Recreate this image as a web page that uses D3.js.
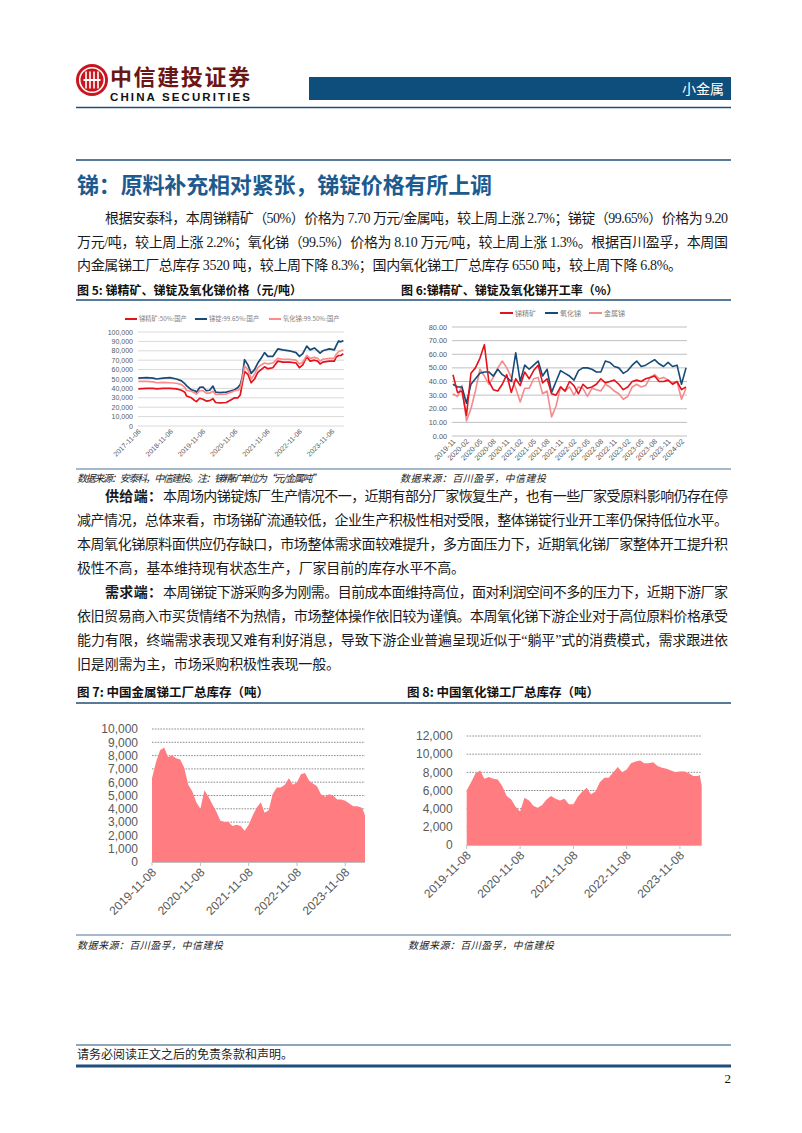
<!DOCTYPE html>
<html><head><meta charset="utf-8">
<script src="https://cdn.jsdelivr.net/npm/d3@7"></script>
<style>html,body{margin:0;padding:0;background:#fff}svg{display:block}</style>
</head><body>
<svg id="page" width="802" height="1133"></svg>
<script>
// ---------------- DATA ----------------
const priceDates = ["2017-11-06","2018-02-08","2018-04-24","2018-06-01","2018-08-15","2018-10-30","2019-01-13","2019-03-10","2019-04-17","2019-05-06","2019-07-01","2019-08-08","2019-08-27","2019-10-03","2019-11-09","2019-12-17","2020-01-24","2020-03-01","2020-03-31","2020-05-16","2020-07-30","2020-09-24","2020-11-01","2020-12-09","2021-01-04","2021-01-27","2021-02-22","2021-04-01","2021-05-08","2021-06-15","2021-07-22","2021-08-29","2021-10-06","2021-11-13","2022-01-08","2022-03-06","2022-05-01","2022-07-15","2022-09-29","2022-11-06","2022-12-14","2023-01-28","2023-03-07","2023-04-25","2023-06-01","2023-06-28","2023-07-28","2023-10-11","2023-12-06","2023-12-25","2024-01-24","2024-02-20","2024-03-17"];
const priceOre   = [39500,40000,40000,39500,40000,40000,39500,38000,36000,32000,30000,27000,26000,29500,28500,26500,27000,29000,25000,24500,25000,28000,30000,30000,33000,45000,58000,55000,46000,50000,57000,60000,63000,61000,62000,69000,68000,68000,67000,62000,65000,74000,69000,70000,69000,66000,68000,69000,69000,73000,75000,75000,77000];
const priceIngot = [51000,51500,51000,50000,51000,51500,50000,48000,45000,43000,38500,37500,36000,41000,41500,37500,38000,42500,36000,35500,36000,37500,38500,41000,44000,52000,70500,65000,56000,60000,67000,72000,78000,74000,74000,82000,81000,80000,78000,74000,77000,85000,81000,83000,80000,77500,80000,82000,81000,85000,90500,89500,91000];
const priceOxide = [47500,47500,47000,46000,46500,46000,45500,44000,41000,38000,37000,35000,34000,37500,37500,35000,35000,37000,33500,33500,34000,36000,37500,38000,40000,50000,64000,60000,50000,55000,62000,65000,67000,66000,67000,72000,71000,71000,70000,66000,68000,75000,72000,73000,72000,69000,71000,72000,72000,76000,79000,80000,81000];
const priceTicks = ["2017-11-06","2018-11-06","2019-11-06","2020-11-06","2021-11-06","2022-11-06","2023-11-06"];
const priceYTicks = [0,10000,20000,30000,40000,50000,60000,70000,80000,90000,100000];
const priceNames = ["锑精矿:50%:国产","锑锭:99.65%:国产","氧化锑:99.50%:国产"];

const months = ["2019-11","2019-12","2020-01","2020-02","2020-03","2020-04","2020-05","2020-06","2020-07","2020-08","2020-09","2020-10","2020-11","2020-12","2021-01","2021-02","2021-03","2021-04","2021-05","2021-06","2021-07","2021-08","2021-09","2021-10","2021-11","2021-12","2022-01","2022-02","2022-03","2022-04","2022-05","2022-06","2022-07","2022-08","2022-09","2022-10","2022-11","2022-12","2023-01","2023-02","2023-03","2023-04","2023-05","2023-06","2023-07","2023-08","2023-09","2023-10","2023-11","2023-12","2024-01","2024-02","2024-03"];
const rateOre   = [45,32,33,15,46,50,57,67,40,34,33,38,45,32,42,37,47,42,48,52,39,42,31,30,36,33,40,37,31,38,35,36,38,42,39,40,41,38,34,36,40,41,40,42,43,44,40,40,41,38,40,34,36];
const rateOxide = [38,36,36,24,38,42,46,47,47,44,49,45,43,40,61,40,52,49,52,55,44,49,32,40,48,46,44,41,48,50,50,49,47,47,55,54,51,50,46,48,52,55,51,52,54,56,53,51,54,51,52,38,50];
const rateMetal = [31,29,37,11,20,33,49,44,38,43,50,55,50,43,35,25,35,35,42,43,31,33,14,22,36,33,36,30,36,35,29,35,34,33,38,36,33,31,27,29,36,38,36,37,43,45,42,43,41,39,40,27,35];
const rateTicks = ["2019-11","2020-02","2020-05","2020-08","2020-11","2021-02","2021-05","2021-08","2021-11","2022-02","2022-05","2022-08","2022-11","2023-02","2023-05","2023-08","2023-11","2024-02"];
const rateYTicks = [0,10,20,30,40,50,60,70,80];
const rateNames = ["锑精矿","氧化锑","金属锑"];

const invExtraDates = ["2024-03-22","2024-04-05"];
const invMetal = [6300,7500,8400,8600,7900,8000,7800,7700,7100,5800,5300,4500,4000,5400,4900,4300,3800,3100,3000,3000,2700,2800,2700,2350,2800,3500,4100,4500,3700,3900,5100,5600,5600,5800,6300,5800,6000,6600,6700,6100,5900,5700,5100,4900,5100,5000,4700,4700,4600,4400,4200,4200,4100,3900,3520];
const invOxide = [6000,6900,7900,8200,7300,7500,7300,7200,6500,5400,5000,4200,3700,5200,4900,4300,4100,4400,5000,5400,5100,4900,5100,4500,4500,5300,5900,6300,5600,5900,6900,7400,7400,8000,8600,8000,8300,9000,9200,9300,9000,9000,9100,8700,8500,8400,8200,8000,8100,8100,7900,7600,7600,7700,6550];
const invTicks = ["2019-11-08","2020-11-08","2021-11-08","2022-11-08","2023-11-08"];
const invMetalYTicks = [0,1000,2000,3000,4000,5000,6000,7000,8000,9000,10000];
const invOxideYTicks = [0,2000,4000,6000,8000,10000,12000];

// ---------------- SETUP ----------------
const svg = d3.select("#page");
const CJK = '"Noto Sans CJK SC", sans-serif';
const SERIF = '"Liberation Serif", "Noto Sans CJK SC", serif';
const SANS = '"Liberation Sans", Arial, sans-serif';
const NAVY = "#1f4e79";
const parse = d3.timeParse("%Y-%m-%d");

function hline(x0, x1, y, w, c) {
  svg.append("line").attr("x1", x0).attr("x2", x1).attr("y1", y).attr("y2", y)
    .attr("stroke", c).attr("stroke-width", w);
}
function text(x, y, s, o) {
  o = o || {};
  const t = svg.append("text").attr("x", x).attr("y", y).text(s)
    .attr("font-family", o.family || SERIF).attr("font-size", o.size || 14)
    .attr("fill", o.fill || "#111");
  if (o.weight) t.attr("font-weight", o.weight);
  if (o.anchor) t.attr("text-anchor", o.anchor);
  if (o.style) t.attr("font-style", o.style);
  if (o.len) t.attr("textLength", o.len).attr("lengthAdjust", "spacing");
  return t;
}

// ---------------- HEADER ----------------
const logo = svg.append("g").attr("transform", "translate(92,80)");
logo.append("circle").attr("r", 16).attr("fill", "#c8161e");
logo.append("circle").attr("r", 12.3).attr("fill", "none").attr("stroke", "#fff").attr("stroke-width", 1.6);
[-6, -2, 2, 6].forEach(dx => logo.append("rect").attr("x", dx - 0.8).attr("y", -8.5).attr("width", 1.6).attr("height", 17).attr("fill", "#fff"));
logo.append("rect").attr("x", -8.5).attr("y", -1).attr("width", 17).attr("height", 2).attr("fill", "#fff");
text(110, 85, "中信建投证券", {family: CJK, size: 22, weight: 700, fill: "#6b1515", len: 140});
text(110, 101, "CHINA SECURITIES", {family: SANS, size: 11.5, weight: 700, fill: "#111", len: 140});
svg.append("rect").attr("x", 309).attr("y", 77).attr("width", 422).attr("height", 23).attr("fill", "#0e4e7c");
text(724, 94, "小金属", {family: CJK, size: 14, fill: "#fff", anchor: "end"});
hline(76, 731, 107.5, 1.5, NAVY);

// ---------------- TITLE & PARAGRAPH ----------------
hline(76, 731, 160, 1.5, NAVY);
text(77, 193, "锑：原料补充相对紧张，锑锭价格有所上调", {family: CJK, size: 22, weight: 700, fill: "#1d5b8e", len: 415});

const P = {family: SERIF, size: 14, fill: "#1a1a1a"};
function pline(x0, x1, y, s, bold) {
  if (bold) {
    text(x0, y, bold, Object.assign({}, P, {weight: 700, family: CJK, len: 57}));
    text(x0 + 58, y, s, Object.assign({}, P, {len: x1 - x0 - 58}));
  } else {
    text(x0, y, s, Object.assign({}, P, {len: x1 - x0}));
  }
}
pline(105, 728, 223, "根据安泰科，本周锑精矿（50%）价格为 7.70 万元/金属吨，较上周上涨 2.7%；锑锭（99.65%）价格为 9.20");
pline(77, 728, 247, "万元/吨，较上周上涨 2.2%；氧化锑（99.5%）价格为 8.10 万元/吨，较上周上涨 1.3%。根据百川盈孚，本周国");
pline(77, 682, 270, "内金属锑工厂总库存 3520 吨，较上周下降 8.3%；国内氧化锑工厂总库存 6550 吨，较上周下降 6.8%。");

// captions row 1
text(77, 295, "图 5: 锑精矿、锑锭及氧化锑价格（元/吨）", {family: CJK, size: 12, weight: 700, fill: "#111"});
text(401, 295, "图 6:锑精矿、锑锭及氧化锑开工率（%）", {family: CJK, size: 12, weight: 700, fill: "#111"});
hline(76, 731, 300, 1.5, NAVY);
hline(76, 731, 469, 1.2, "#4f7397");
text(77, 482, "数据来源：安泰科，中信建投。注：锑精矿单位为“元/金属吨”", {family: CJK, size: 10, style: "italic", fill: "#222", len: 244});
text(400, 482, "数据来源：百川盈孚，中信建投", {family: CJK, size: 10, style: "italic", fill: "#222", len: 146});

// supply / demand paragraphs
pline(105, 728, 501, "本周场内锑锭炼厂生产情况不一，近期有部分厂家恢复生产，也有一些厂家受原料影响仍存在停", "供给端：");
pline(77, 728, 525, "减产情况，总体来看，市场锑矿流通较低，企业生产积极性相对受限，整体锑锭行业开工率仍保持低位水平。");
pline(77, 728, 549, "本周氧化锑原料面供应仍存缺口，市场整体需求面较难提升，多方面压力下，近期氧化锑厂家整体开工提升积");
pline(77, 465, 573, "极性不高，基本维持现有状态生产，厂家目前的库存水平不高。");
pline(105, 728, 597, "本周锑锭下游采购多为刚需。目前成本面维持高位，面对利润空间不多的压力下，近期下游厂家", "需求端：");
pline(77, 728, 621, "依旧贸易商入市买货情绪不为热情，市场整体操作依旧较为谨慎。本周氧化锑下游企业对于高位原料价格承受");
pline(77, 728, 645, "能力有限，终端需求表现又难有利好消息，导致下游企业普遍呈现近似于“躺平”式的消费模式，需求跟进依");
pline(77, 340, 669, "旧是刚需为主，市场采购积极性表现一般。");

// captions row 2
text(77, 697, "图 7: 中国金属锑工厂总库存（吨）", {family: CJK, size: 12.5, weight: 700, fill: "#111"});
text(407, 697, "图 8: 中国氧化锑工厂总库存（吨）", {family: CJK, size: 12.5, weight: 700, fill: "#111"});
hline(76, 731, 703, 1.5, NAVY);
hline(76, 731, 935, 1.2, "#4f7397");
text(77, 949, "数据来源：百川盈孚，中信建投", {family: CJK, size: 10, style: "italic", fill: "#222", len: 146});
text(408, 949, "数据来源：百川盈孚，中信建投", {family: CJK, size: 10, style: "italic", fill: "#222", len: 146});

// footer
hline(76, 731, 1045, 1, NAVY);
text(77, 1059, "请务必阅读正文之后的免责条款和声明。", {family: CJK, size: 12, fill: "#222"});
hline(76, 731, 1066, 3, NAVY);
text(731, 1083, "2", {family: SERIF, size: 13, fill: "#111", anchor: "end"});

// ---------------- CHART 5: prices ----------------
(function () {
  const g = svg.append("g");
  const dates = priceDates.map(parse);
  const x = d3.scaleTime().domain(d3.extent(dates)).range([138.3, 343.3]);
  const y = d3.scaleLinear().domain([0, 100000]).range([426, 332]);
  priceYTicks.forEach(v => {
    g.append("line").attr("x1", 138).attr("x2", 344).attr("y1", y(v)).attr("y2", y(v))
      .attr("stroke", "#d9d9d9").attr("stroke-width", 1);
    g.append("text").attr("x", 133).attr("y", y(v) + 2.5).attr("text-anchor", "end")
      .attr("font-family", SANS).attr("font-size", 7).attr("fill", "#595959").text(d3.format(",")(v));
  });
  priceTicks.forEach(t => {
    const tx = x(parse(t));
    g.append("text").attr("transform", `translate(${tx + 3},${432}) rotate(-45)`)
      .attr("text-anchor", "end").attr("font-family", SANS).attr("font-size", 7)
      .attr("fill", "#595959").text(t);
  });
  const series = [priceOre, priceIngot, priceOxide];
  const colors = ["#e3121b", "#174a76", "#ff8a8a"];
  series.forEach((s, k) => {
    const line = d3.line().x((d, i) => x(dates[i])).y(d => y(d));
    g.append("path").datum(s).attr("d", line).attr("fill", "none")
      .attr("stroke", colors[k]).attr("stroke-width", 1.7).attr("stroke-linejoin", "round");
  });
  const lx = [125, 195, 269];
  priceNames.forEach((n, k) => {
    g.append("line").attr("x1", lx[k]).attr("x2", lx[k] + 12).attr("y1", 319).attr("y2", 319)
      .attr("stroke", colors[k]).attr("stroke-width", 2);
    g.append("text").attr("x", lx[k] + 14).attr("y", 321.3).attr("font-family", CJK)
      .attr("font-size", 6.3).attr("fill", "#7f7f7f").text(n);
  });
})();

// ---------------- CHART 6: operating rate ----------------
(function () {
  const g = svg.append("g");
  const x = d3.scalePoint().domain(months).range([453, 686]);
  const y = d3.scaleLinear().domain([0, 80]).range([436, 327]);
  rateYTicks.forEach(v => {
    g.append("line").attr("x1", 452).attr("x2", 687).attr("y1", y(v)).attr("y2", y(v))
      .attr("stroke", "#bfbfbf").attr("stroke-width", 1);
    g.append("text").attr("x", 447).attr("y", y(v) + 2.6).attr("text-anchor", "end")
      .attr("font-family", SANS).attr("font-size", 7.3).attr("fill", "#595959").text(d3.format(".2f")(v));
  });
  rateTicks.forEach(t => {
    g.append("text").attr("transform", `translate(${x(t) + 3},${442}) rotate(-45)`)
      .attr("text-anchor", "end").attr("font-family", SANS).attr("font-size", 7.3)
      .attr("fill", "#595959").text(t);
  });
  const series = [rateOre, rateOxide, rateMetal];
  const colors = ["#e3121b", "#174a76", "#f48a8c"];
  [2, 1, 0].forEach(k => {
    const line = d3.line().x((d, i) => x(months[i])).y(d => y(d));
    g.append("path").datum(series[k]).attr("d", line).attr("fill", "none")
      .attr("stroke", colors[k]).attr("stroke-width", 1.6).attr("stroke-linejoin", "round");
  });
  const lx = [500, 545, 589];
  rateNames.forEach((n, k) => {
    g.append("line").attr("x1", lx[k]).attr("x2", lx[k] + 13).attr("y1", 313).attr("y2", 313)
      .attr("stroke", colors[k]).attr("stroke-width", 2);
    g.append("text").attr("x", lx[k] + 15).attr("y", 315.5).attr("font-family", CJK)
      .attr("font-size", 7).attr("fill", "#7f7f7f").text(n);
  });
})();

// ---------------- CHARTS 7 & 8: inventory ----------------
function invChart(vals, yTicks, yMax, xr, yr, labelX) {
  const g = svg.append("g");
  const dates = months.map(m => m + "-08").concat(invExtraDates).map(parse);
  const x = d3.scaleTime().domain(d3.extent(dates)).range(xr);
  const y = d3.scaleLinear().domain([0, yMax]).range(yr);
  yTicks.forEach(v => {
    if (v > 0) g.append("line").attr("x1", xr[0]).attr("x2", xr[1]).attr("y1", y(v)).attr("y2", y(v))
      .attr("stroke", "#6f6f6f").attr("stroke-width", 0.8).attr("stroke-dasharray", "1.6,1.2");
    g.append("text").attr("x", labelX).attr("y", y(v) + 4.3).attr("text-anchor", "end")
      .attr("font-family", SANS).attr("font-size", 12).attr("fill", "#595959").text(d3.format(",")(v));
  });
  const area = d3.area().x((d, i) => x(dates[i])).y0(y(0)).y1(d => y(d));
  g.append("path").datum(vals).attr("d", area).attr("fill", "#ff7c80");
  g.append("line").attr("x1", xr[0]).attr("x2", xr[1]).attr("y1", y(0) + 0.5).attr("y2", y(0) + 0.5)
    .attr("stroke", "#bfbfbf").attr("stroke-width", 1);
  invTicks.forEach(t => {
    const tx = x(parse(t));
    g.append("line").attr("x1", tx).attr("x2", tx).attr("y1", y(0)).attr("y2", y(0) + 4)
      .attr("stroke", "#bfbfbf").attr("stroke-width", 1);
    g.append("text").attr("transform", `translate(${tx + 5},${y(0) + 11}) rotate(-45)`)
      .attr("text-anchor", "end").attr("font-family", SANS).attr("font-size", 12)
      .attr("fill", "#595959").text(t);
  });
}
invChart(invMetal, invMetalYTicks, 10000, [152, 365], [862, 729], 138);
invChart(invOxide, invOxideYTicks, 12000, [466.7, 701.7], [845, 736], 452.7);
</script>
</body></html>
